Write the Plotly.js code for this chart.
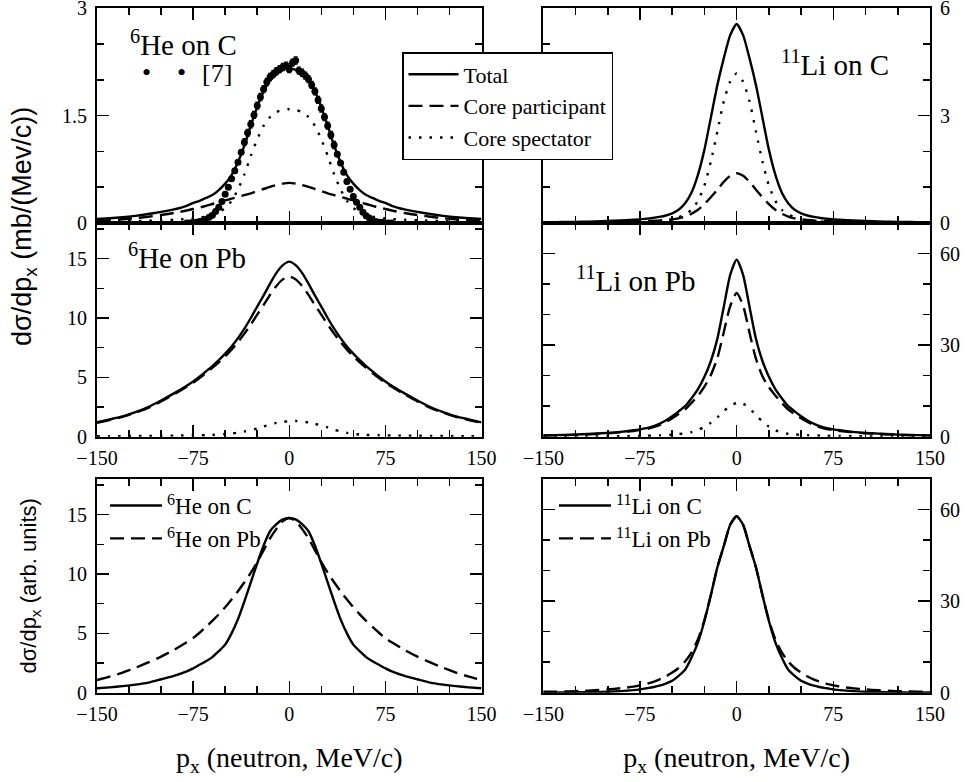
<!DOCTYPE html>
<html><head><meta charset="utf-8">
<script src="https://cdn.plot.ly/plotly-3.0.1.min.js"></script>
<style>html,body{margin:0;padding:0;background:#fff}#chart{width:968px;height:782px}
#chart .xtick text, #chart .ytick text{font-family:'Liberation Serif' !important;font-size:20px !important;fill:#000 !important}
#chart .x5title, #chart .x6title{font-family:'Liberation Serif' !important;font-size:28px !important;fill:#000 !important}
#chart .y5title{font-family:'Liberation Sans' !important;font-size:22px !important;fill:#000 !important}
</style>
</head><body><div id="chart"></div>
<script>
// momentum grid (MeV/c)
const px = [-150,-140,-130,-120,-110,-100,-90,-80,-75,-70,-65,-60,-55,-50,-45,-40,-35,-30,-25,-20,-15,-10,-5,0,5,10,15,20,25,30,35,40,45,50,55,60,65,70,75,80,90,100,110,120,130,140,150];

// 6He on C (mb/(MeV/c))
const heC_tot  = [0.056,0.066,0.08,0.10,0.125,0.155,0.19,0.24,0.28,0.31,0.35,0.39,0.46,0.55,0.67,0.85,1.08,1.36,1.62,1.84,1.99,2.08,2.14,2.16,2.14,2.08,1.99,1.84,1.62,1.36,1.08,0.85,0.67,0.55,0.46,0.39,0.35,0.31,0.28,0.24,0.19,0.155,0.125,0.10,0.08,0.066,0.056];
const heC_part = [0.03,0.04,0.052,0.068,0.088,0.112,0.14,0.175,0.195,0.215,0.24,0.265,0.29,0.315,0.34,0.365,0.39,0.415,0.445,0.475,0.505,0.53,0.55,0.56,0.55,0.53,0.505,0.475,0.445,0.415,0.39,0.365,0.34,0.315,0.29,0.265,0.24,0.215,0.195,0.175,0.14,0.112,0.088,0.068,0.052,0.04,0.03];
const heC_spec = [0.02,0.022,0.025,0.028,0.032,0.038,0.045,0.055,0.065,0.075,0.09,0.11,0.15,0.21,0.31,0.47,0.68,0.94,1.17,1.36,1.48,1.55,1.58,1.59,1.58,1.55,1.48,1.36,1.17,0.94,0.68,0.47,0.31,0.21,0.15,0.11,0.09,0.075,0.065,0.055,0.045,0.038,0.032,0.028,0.025,0.022,0.02];

// experimental data [7] for 6He on C
const data_x = [-80,-77.5,-75,-72.5,-70,-67.5,-65,-62.5,-60,-57.5,-55,-52.5,-50,-47.5,-45,-42.5,-40,-37.5,-35,-32.5,-30,-27.5,-25,-22.5,-20,-17.5,-15,-12.5,-10,-7.5,-5,-2.5,0,2.5,5,7.5,10,12.5,15,17.5,20,22.5,25,27.5,30,32.5,35,37.5,40,42.5,45,47.5,50,52.5,55,57.5,60,62.5,65,67.5,70,72.5,75,77.5,80];
const data_y = [0.00,0.00,0.01,0.01,0.02,0.03,0.05,0.08,0.11,0.16,0.22,0.30,0.40,0.50,0.62,0.73,0.85,0.99,1.13,1.26,1.38,1.51,1.64,1.76,1.87,1.97,2.04,2.08,2.12,2.15,2.18,2.20,2.15,2.24,2.27,2.13,2.10,2.06,2.01,1.93,1.84,1.72,1.60,1.48,1.36,1.23,1.09,0.96,0.84,0.71,0.58,0.47,0.37,0.29,0.22,0.15,0.10,0.07,0.04,0.02,0.01,0.01,0.00,0.00,0.00];
const data_err = [0.01,0.01,0.01,0.01,0.01,0.01,0.02,0.02,0.02,0.02,0.02,0.02,0.03,0.03,0.03,0.03,0.03,0.03,0.05,0.05,0.05,0.05,0.05,0.05,0.05,0.05,0.05,0.05,0.05,0.05,0.05,0.05,0.05,0.05,0.05,0.05,0.05,0.05,0.05,0.05,0.05,0.05,0.05,0.05,0.05,0.05,0.05,0.03,0.03,0.03,0.03,0.03,0.03,0.02,0.02,0.02,0.02,0.02,0.02,0.01,0.01,0.01,0.01,0.01,0.01];

// 11Li on C
const liC_tot  = [0.02,0.025,0.03,0.035,0.045,0.055,0.07,0.09,0.1,0.12,0.14,0.17,0.21,0.27,0.37,0.55,0.85,1.35,2.05,2.95,3.85,4.6,5.25,5.56,5.25,4.6,3.85,2.95,2.05,1.35,0.85,0.55,0.37,0.27,0.21,0.17,0.14,0.12,0.1,0.09,0.07,0.055,0.045,0.035,0.03,0.025,0.02];
const liC_part = [0.01,0.012,0.014,0.017,0.02,0.025,0.03,0.04,0.045,0.05,0.06,0.07,0.085,0.1,0.13,0.18,0.26,0.37,0.53,0.72,0.93,1.15,1.32,1.39,1.32,1.15,0.93,0.72,0.53,0.37,0.26,0.18,0.13,0.1,0.085,0.07,0.06,0.05,0.045,0.04,0.03,0.025,0.02,0.017,0.014,0.012,0.01];
const liC_spec = [0.005,0.006,0.007,0.008,0.01,0.012,0.016,0.022,0.026,0.032,0.04,0.05,0.07,0.1,0.16,0.24,0.37,0.62,1.05,1.72,2.55,3.4,3.95,4.18,3.95,3.4,2.55,1.72,1.05,0.62,0.37,0.24,0.16,0.1,0.07,0.05,0.04,0.032,0.026,0.022,0.016,0.012,0.01,0.008,0.007,0.006,0.005];

// 6He on Pb
const hePb_tot  = [1.21,1.46,1.72,2.08,2.5,3.05,3.65,4.3,4.65,5.05,5.5,5.95,6.45,7.0,7.6,8.3,9.1,10.0,10.96,11.9,12.9,13.8,14.45,14.75,14.45,13.8,12.9,11.9,10.96,10.0,9.1,8.3,7.6,7.0,6.45,5.95,5.5,5.05,4.65,4.3,3.65,3.05,2.5,2.08,1.72,1.46,1.21];
const hePb_part = [1.17,1.41,1.67,2.02,2.43,2.97,3.56,4.2,4.54,4.93,5.37,5.8,6.27,6.78,7.33,7.97,8.68,9.45,10.28,11.1,11.95,12.7,13.25,13.5,13.25,12.7,11.95,11.1,10.28,9.45,8.68,7.97,7.33,6.78,6.27,5.8,5.37,4.93,4.54,4.2,3.56,2.97,2.43,2.02,1.67,1.41,1.17];
const hePb_spec = [0.04,0.045,0.05,0.06,0.07,0.08,0.09,0.1,0.11,0.12,0.13,0.15,0.18,0.22,0.27,0.34,0.44,0.56,0.7,0.86,1.02,1.16,1.25,1.31,1.32,1.28,1.2,1.08,0.94,0.78,0.6,0.44,0.32,0.23,0.18,0.15,0.13,0.12,0.11,0.1,0.09,0.08,0.07,0.06,0.05,0.045,0.04];

// 11Li on Pb
const liPb_tot  = [0.4,0.5,0.6,0.8,1.0,1.25,1.6,2.1,2.4,2.8,3.4,4.2,5.3,6.7,8.3,10.0,12.6,15.6,19.6,24.8,32,42.5,53,58,53,42.5,32,24.8,19.6,15.6,12.6,10.0,8.3,6.7,5.3,4.2,3.4,2.8,2.4,2.1,1.6,1.25,1.0,0.8,0.6,0.5,0.4];
const liPb_part = [0.36,0.45,0.54,0.72,0.9,1.12,1.43,1.88,2.14,2.5,3.05,3.78,4.8,6.05,7.45,8.9,11.1,13.4,16.4,20.2,25.7,34.2,42.8,47.1,43,34,25.5,19.8,16.2,13.5,11.1,8.9,7.45,6.05,4.8,3.78,3.05,2.5,2.14,1.88,1.43,1.12,0.9,0.72,0.54,0.45,0.36];
const liPb_spec = [0.04,0.05,0.06,0.08,0.1,0.13,0.17,0.22,0.26,0.3,0.35,0.42,0.5,0.65,0.85,1.1,1.5,2.2,3.2,4.6,6.3,8.3,10.2,11.0,10.8,9.3,7.0,5.0,3.3,2.1,1.35,0.95,0.75,0.6,0.5,0.42,0.35,0.3,0.26,0.22,0.17,0.13,0.1,0.08,0.06,0.05,0.04];

// normalized comparisons (arb. units)
const cmp_heC  = [0.37,0.45,0.55,0.68,0.85,1.13,1.42,1.8,2.05,2.35,2.65,3.0,3.5,4.05,5.0,6.2,7.7,9.3,10.9,12.4,13.6,14.2,14.6,14.72,14.6,14.2,13.6,12.4,10.9,9.3,7.7,6.2,5.0,4.05,3.5,3.0,2.65,2.35,2.05,1.8,1.42,1.13,0.85,0.68,0.55,0.45,0.37];
const cmp_hePb = [1.07,1.35,1.7,2.1,2.55,3.04,3.6,4.25,4.6,5.05,5.55,6.05,6.6,7.2,7.85,8.55,9.3,10.1,11.0,12.0,13.0,13.8,14.45,14.72,14.45,13.8,13.0,12.0,11.0,10.1,9.3,8.55,7.85,7.2,6.6,6.05,5.55,5.05,4.6,4.25,3.6,3.04,2.55,2.1,1.7,1.35,1.07];
const cmp_liC  = [0.05,0.08,0.1,0.15,0.22,0.32,0.5,0.85,1.1,1.45,1.8,2.3,3.0,3.9,5.5,7.5,11.5,16.5,23.5,32,41,48,55,57.8,55,48,41,32,23.5,16.5,11.5,7.5,5.5,3.9,3.0,2.3,1.8,1.45,1.1,0.85,0.5,0.32,0.22,0.15,0.1,0.08,0.05];
const cmp_liPb = [0.3,0.35,0.45,0.6,0.8,1.05,1.45,2.0,2.4,2.9,3.5,4.3,5.3,6.6,8.1,10.2,13.2,17.5,23.8,32,41,48,55,57.8,55,48,41,32,23.8,17.5,13.2,10.2,8.1,6.6,5.3,4.3,3.5,2.9,2.4,2.0,1.45,1.05,0.8,0.6,0.45,0.35,0.3];

const legendNames = ['Total','Core participant','Core spectator'];
const cmpNames = [['<sup>6</sup>He on C','<sup>6</sup>He on Pb'],['<sup>11</sup>Li on C','<sup>11</sup>Li on Pb']];

// ---- styles ----
const SERIF = 'Liberation Serif';
const SANS = 'Liberation Sans';
const LW = 2.4;
const solid = {color:'#000', width:LW, shape:'spline', smoothing:0.6};
const dashed = {color:'#000', width:LW, dash:'14px,7px', shape:'spline', smoothing:0.6};
const dotted = {color:'#000', width:LW, dash:'2.5px,8px', shape:'spline', smoothing:0.6};

function line(y, ax, st, name, show, lg) {
  return {x: px, y: y, type:'scatter', mode:'lines', xaxis:'x'+ax, yaxis:'y'+ax,
          line: st, name: name || '', showlegend: !!show, legend: lg || 'legend'};
}

const traces = [
  line(heC_tot, '', solid, legendNames[0], true),
  line(heC_part, '', dashed, legendNames[1], true),
  line(heC_spec, '', dotted, legendNames[2], true),
  {x: data_x, y: data_y, type:'scatter', mode:'markers', xaxis:'x', yaxis:'y', name:'[7]', showlegend:false,
   marker:{color:'#000', size:7}, error_y:{type:'data', array:data_err, color:'#000', thickness:1.2, width:2}},
  line(liC_tot, '2', solid), line(liC_part, '2', dashed), line(liC_spec, '2', dotted),
  line(hePb_tot, '3', solid), line(hePb_part, '3', dashed), line(hePb_spec, '3', dotted),
  line(liPb_tot, '4', solid), line(liPb_part, '4', dashed), line(liPb_spec, '4', dotted),
  line(cmp_heC, '5', solid, cmpNames[0][0], true, 'legend2'),
  line(cmp_hePb, '5', dashed, cmpNames[0][1], true, 'legend2'),
  line(cmp_liC, '6', solid, cmpNames[1][0], true, 'legend3'),
  line(cmp_liPb, '6', dashed, cmpNames[1][1], true, 'legend3'),
];

const W = 968, H = 782;
const XL = [97/W, 481.5/W], XR = [543.3/W, 930/W];
const YT = [1-223/H, 1-8.3/H], YM = [1-436.7/H, 1-223/H], YB = [1-692.7/H, 1-479/H];

function xax(domain, anchor, labels) {
  return {domain: domain, anchor: anchor, range:[-150,150], tick0:-150, dtick:75,
    ticks:'inside', ticklen:12, tickwidth:1.5, tickcolor:'#000',
    minor:{dtick:25, tick0:-150, ticks:'inside', ticklen:7, tickwidth:1.5, tickcolor:'#000'},
    showticklabels: labels, tickfont:{family:SERIF, size:20, color:'#000'}, ticklabeloverflow:'allow', ticklabelstandoff:2,
    showline:true, linewidth:2, linecolor:'#000', mirror:'allticks',
    showgrid:false, zeroline:false, fixedrange:true};
}
function yax(domain, anchor, range, dtick, mdt, side) {
  return {domain: domain, anchor: anchor, range: range, tick0:0, dtick: dtick, side: side,
    ticks:'inside', ticklen:12, tickwidth:1.5, tickcolor:'#000',
    minor:{dtick:mdt, tick0:0, ticks:'inside', ticklen:7, tickwidth:1.5, tickcolor:'#000'},
    tickfont:{family:SERIF, size:20, color:'#000'}, ticklabelstandoff:4, ticklabeloverflow:'allow',
    showline:true, linewidth:2, linecolor:'#000', mirror:'allticks',
    showgrid:false, zeroline:false, fixedrange:true};
}
function xtitle() { return {text:'p<sub>x</sub> (neutron, MeV/c)', font:{family:SERIF, size:28, color:'#000'}, standoff:24}; }

const layout = {
  width:W, height:H, margin:{l:0,r:0,t:0,b:0},
  paper_bgcolor:'#fff', plot_bgcolor:'#fff',
  font:{family:SERIF, size:20, color:'#000'},
  xaxis: xax(XL, 'y', false),
  yaxis: yax(YT, 'x', [0,3], 1.5, 0.5, 'left'),
  xaxis2: xax(XR, 'y2', false),
  yaxis2: yax(YT, 'x2', [0,6], 3, 1, 'right'),
  xaxis3: xax(XL, 'y3', true),
  yaxis3: yax(YM, 'x3', [0,18], 5, 2.5, 'left'),
  xaxis4: xax(XR, 'y4', true),
  yaxis4: yax(YM, 'x4', [0,70], 30, 10, 'right'),
  xaxis5: Object.assign(xax(XL, 'y5', true), {title: xtitle()}),
  yaxis5: Object.assign(yax(YB, 'x5', [0,18], 5, 2.5, 'left'), {title:{text:'dσ/dp<sub>x</sub> (arb. units)', font:{family:SANS, size:22, color:'#000'}, standoff:24}}),
  xaxis6: Object.assign(xax(XR, 'y6', true), {title: xtitle()}),
  yaxis6: yax(YB, 'x6', [0,70], 30, 10, 'right'),
  legend:{x:402/W, y:1-52/H, xanchor:'left', yanchor:'top', bgcolor:'#fff', bordercolor:'#000', borderwidth:1.5,
          font:{family:SERIF, size:22, color:'#000'}, itemwidth:50, tracegroupgap:0},
  legend2:{x:105/W, y:1-484/H, xanchor:'left', yanchor:'top', bgcolor:'rgba(0,0,0,0)', borderwidth:0,
          font:{family:SERIF, size:23, color:'#000'}, itemwidth:52},
  legend3:{x:554/W, y:1-484/H, xanchor:'left', yanchor:'top', bgcolor:'rgba(0,0,0,0)', borderwidth:0,
          font:{family:SERIF, size:23, color:'#000'}, itemwidth:52},
  annotations:[
    {text:'dσ/dp<sub>x</sub> (mb/(Mev/c))', textangle:-90, x:24/W, y:1-227/H, xref:'paper', yref:'paper',
     xanchor:'center', yanchor:'middle', showarrow:false, font:{family:SANS, size:27, color:'#000'}},
    {text:'<sup>6</sup>He on C', x:128/W, y:1-43/H, xref:'paper', yref:'paper', xanchor:'left', yanchor:'middle',
     showarrow:false, font:{family:SERIF, size:29, color:'#000'}},
    {text:'•\u00a0\u00a0\u00a0\u00a0•', x:164/W, y:1-72/H, xref:'paper', yref:'paper', xanchor:'center', yanchor:'middle',
     showarrow:false, font:{family:SERIF, size:26, color:'#000'}},
    {text:'[7]', x:200/W, y:1-74/H, xref:'paper', yref:'paper', xanchor:'left', yanchor:'middle',
     showarrow:false, font:{family:SERIF, size:26, color:'#000'}},
    {text:'<sup>11</sup>Li on C', x:779/W, y:1-63/H, xref:'paper', yref:'paper', xanchor:'left', yanchor:'middle',
     showarrow:false, font:{family:SERIF, size:29, color:'#000'}},
    {text:'<sup>6</sup>He on Pb', x:126/W, y:1-256/H, xref:'paper', yref:'paper', xanchor:'left', yanchor:'middle',
     showarrow:false, font:{family:SERIF, size:29, color:'#000'}},
    {text:'<sup>11</sup>Li on Pb', x:574/W, y:1-279/H, xref:'paper', yref:'paper', xanchor:'left', yanchor:'middle',
     showarrow:false, font:{family:SERIF, size:29, color:'#000'}}
  ]
};

Plotly.newPlot('chart', traces, layout, {staticPlot:true, displayModeBar:false});
</script>
</body></html>
